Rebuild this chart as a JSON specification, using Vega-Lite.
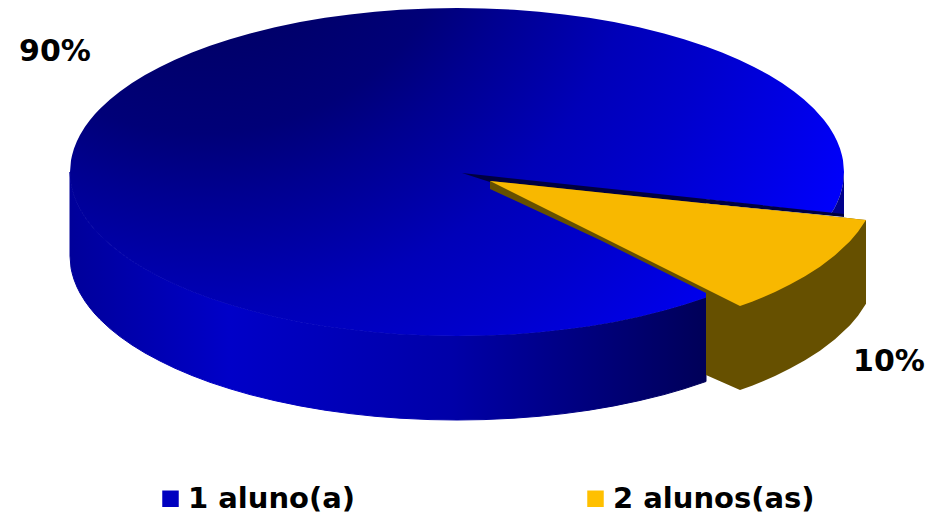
{
"$schema":"https://vega.github.io/schema/vega-lite/v6.json",
"width":936,"height":515,"padding":0,"autosize":"none",
"background":"white",
"view":{"stroke":null},
"datasets":{
"blueSide":[{"x":70,"y":172,"y2":256},{"x":71,"y":183.8,"y2":267.8},{"x":72,"y":188.6,"y2":272.6},{"x":74,"y":195.5,"y2":279.5},{"x":77,"y":203,"y2":287},{"x":80,"y":209,"y2":293},{"x":85,"y":217.2,"y2":301.2},{"x":90,"y":224,"y2":308},{"x":95,"y":230,"y2":314},{"x":100,"y":235.3,"y2":319.3},{"x":110,"y":244.6,"y2":328.6},{"x":120,"y":252.6,"y2":336.6},{"x":132,"y":261,"y2":345},{"x":145,"y":269,"y2":353},{"x":160,"y":277,"y2":361},{"x":175,"y":284.3,"y2":368.3},{"x":192,"y":291.5,"y2":375.5},{"x":210,"y":298.3,"y2":382.3},{"x":230,"y":304.8,"y2":388.8},{"x":250,"y":310.6,"y2":394.6},{"x":275,"y":316.7,"y2":400.7},{"x":300,"y":321.9,"y2":405.9},{"x":325,"y":326.2,"y2":410.2},{"x":350,"y":329.6,"y2":413.6},{"x":375,"y":332.3,"y2":416.3},{"x":400,"y":334.2,"y2":418.2},{"x":430,"y":335.6,"y2":419.6},{"x":457,"y":336,"y2":420},{"x":484,"y":335.6,"y2":419.6},{"x":514,"y":334.2,"y2":418.2},{"x":539,"y":332.3,"y2":416.3},{"x":564,"y":329.6,"y2":413.6},{"x":589,"y":326.2,"y2":410.2},{"x":614,"y":321.9,"y2":405.9},{"x":639,"y":316.7,"y2":400.7},{"x":664,"y":310.6,"y2":394.6},{"x":684,"y":304.8,"y2":388.8},{"x":706,"y":297.5,"y2":381.5}],
"blueTop":[{"x":70,"y":172,"y2":172},{"x":71,"y":160.2,"y2":183.8},{"x":72,"y":155.4,"y2":188.6},{"x":74,"y":148.5,"y2":195.5},{"x":77,"y":141,"y2":203},{"x":80,"y":135,"y2":209},{"x":85,"y":126.8,"y2":217.2},{"x":90,"y":120,"y2":224},{"x":95,"y":114,"y2":230},{"x":100,"y":108.7,"y2":235.3},{"x":110,"y":99.4,"y2":244.6},{"x":120,"y":91.4,"y2":252.6},{"x":132,"y":83,"y2":261},{"x":145,"y":75,"y2":269},{"x":160,"y":67,"y2":277},{"x":175,"y":59.7,"y2":284.3},{"x":192,"y":52.5,"y2":291.5},{"x":210,"y":45.7,"y2":298.3},{"x":230,"y":39.2,"y2":304.8},{"x":250,"y":33.4,"y2":310.6},{"x":275,"y":27.3,"y2":316.7},{"x":300,"y":22.1,"y2":321.9},{"x":325,"y":17.8,"y2":326.2},{"x":350,"y":14.4,"y2":329.6},{"x":375,"y":11.7,"y2":332.3},{"x":400,"y":9.8,"y2":334.2},{"x":430,"y":8.4,"y2":335.6},{"x":457,"y":8,"y2":336},{"x":484,"y":8.4,"y2":335.6},{"x":514,"y":9.8,"y2":334.2},{"x":539,"y":11.7,"y2":332.3},{"x":564,"y":14.4,"y2":329.6},{"x":589,"y":17.8,"y2":326.2},{"x":614,"y":22.1,"y2":321.9},{"x":639,"y":27.3,"y2":316.7},{"x":664,"y":33.4,"y2":310.6},{"x":684,"y":39.2,"y2":304.8},{"x":706,"y":46.5,"y2":297.5},{"x":706.01,"y":46.5,"y2":199.5},{"x":722,"y":52.5,"y2":201.3},{"x":739,"y":59.7,"y2":203.2},{"x":754,"y":67,"y2":204.9},{"x":769,"y":75,"y2":206.6},{"x":782,"y":83,"y2":208},{"x":794,"y":91.4,"y2":209.4},{"x":804,"y":99.4,"y2":210.5},{"x":814,"y":108.7,"y2":211.6},{"x":824,"y":120,"y2":212.8},{"x":829,"y":126.8,"y2":213.3},{"x":831,"y":130,"y2":213.5},{"x":834,"y":135,"y2":209},{"x":837,"y":141,"y2":203},{"x":840,"y":148.5,"y2":195.5},{"x":842,"y":155.4,"y2":188.6},{"x":843,"y":160.2,"y2":183.8},{"x":844,"y":172,"y2":172}],
"blueEdge":[{"x":831,"y":213.5,"y2":213.5},{"x":834,"y":209,"y2":214},{"x":837,"y":203,"y2":214.3},{"x":840,"y":195.5,"y2":214.6},{"x":842,"y":188.6,"y2":214.8},{"x":843,"y":183.8,"y2":214.9},{"x":844,"y":172,"y2":215}],
"shadow":[{"x":462,"y":173,"y2":173},{"x":490,"y":176,"y2":182},{"x":640,"y":192,"y2":197},{"x":844,"y":214,"y2":217}],
"brown":[{"x":490,"y":181,"y2":189},{"x":600,"y":192.4,"y2":240},{"x":706,"y":203.4,"y2":293},{"x":706.01,"y":203.4,"y2":375},{"x":740,"y":206.9,"y2":390},{"x":752,"y":208.2,"y2":385.7},{"x":763,"y":209.3,"y2":381.2},{"x":775,"y":210.5,"y2":375.9},{"x":790,"y":212,"y2":368.6},{"x":805,"y":213.6,"y2":360.3},{"x":820,"y":215.1,"y2":350.7},{"x":835,"y":216.7,"y2":339.3},{"x":850,"y":218.3,"y2":325.2},{"x":858,"y":219.2,"y2":315.8},{"x":866,"y":220,"y2":303.8}],
"yellow":[{"x":490,"y":181,"y2":181},{"x":600,"y":192.4,"y2":236},{"x":706,"y":203.4,"y2":289},{"x":740,"y":206.9,"y2":306},{"x":752,"y":208.2,"y2":301.7},{"x":763,"y":209.3,"y2":297.2},{"x":775,"y":210.5,"y2":291.9},{"x":790,"y":212,"y2":284.6},{"x":805,"y":213.6,"y2":276.3},{"x":820,"y":215.1,"y2":266.7},{"x":835,"y":216.7,"y2":255.3},{"x":850,"y":218.3,"y2":241.2},{"x":858,"y":219.2,"y2":231.8},{"x":866,"y":220,"y2":220}],
"shares":[{"category":"1 aluno(a)","share":90,"label":"90%","x":55,"y":52},{"category":"2 alunos(as)","share":10,"label":"10%","x":889,"y":362}]
},
"encoding":{
"x":{"field":"x","type":"quantitative","scale":{"domain":[0,936],"nice":false,"zero":false},"axis":null},
"y":{"field":"y","type":"quantitative","scale":{"domain":[515,0],"nice":false,"zero":false},"axis":null}
},
"layer":[
{"data":{"name":"blueSide"},"mark":{"type":"area","orient":"vertical","strokeWidth":1,"stroke":{"gradient":"linear","x1":0,"y1":0,"x2":1,"y2":0,"stops":[{"offset":0,"color":"#00009a"},{"offset":0.25,"color":"#0000c8"},{"offset":0.6,"color":"#0000a8"},{"offset":1,"color":"#000058"}]},"color":{"gradient":"linear","x1":0,"y1":0,"x2":1,"y2":0,"stops":[{"offset":0,"color":"#00009a"},{"offset":0.25,"color":"#0000c8"},{"offset":0.6,"color":"#0000a8"},{"offset":1,"color":"#000058"}]}},"encoding":{"y2":{"field":"y2"}}},
{"data":{"name":"blueTop"},"mark":{"type":"area","orient":"vertical","color":{"gradient":"radial","x1":0.17,"y1":0.1,"r1":0,"x2":0.17,"y2":0.1,"r2":1,"stops":[{"offset":0,"color":"#000050"},{"offset":0.35,"color":"#000078"},{"offset":0.43,"color":"#000090"},{"offset":0.58,"color":"#0000b8"},{"offset":0.7,"color":"#0000cc"},{"offset":0.82,"color":"#0000e4"},{"offset":0.95,"color":"#0000ff"},{"offset":1,"color":"#0000ff"}]}},"encoding":{"y2":{"field":"y2"}}},
{"data":{"name":"blueEdge"},"mark":{"type":"area","orient":"vertical","color":"#00008c"},"encoding":{"y2":{"field":"y2"}}},
{"data":{"name":"shadow"},"mark":{"type":"area","orient":"vertical","color":"#000040"},"encoding":{"y2":{"field":"y2"}}},
{"data":{"name":"brown"},"mark":{"type":"area","orient":"vertical","color":"#665000"},"encoding":{"y2":{"field":"y2"}}},
{"data":{"name":"yellow"},"mark":{"type":"area","orient":"vertical","color":"#f8b800"},"encoding":{"y2":{"field":"y2"}}},
{"data":{"name":"shares"},"mark":{"type":"text","font":"DejaVu Sans","fontWeight":"bold","fontSize":30,"color":"black","align":"center","baseline":"middle"},"encoding":{"text":{"field":"label"}}},
{"data":{"name":"shares"},"mark":{"type":"point","filled":true,"size":0,"opacity":1},"encoding":{"color":{"field":"category","type":"nominal","scale":{"domain":["1 aluno(a)","2 alunos(as)"],"range":["#0000c0","#ffc000"]},"legend":{"title":null,"orient":"none","legendX":156,"legendY":484,"direction":"horizontal","columns":2,"columnPadding":225,"symbolType":"square","symbolSize":272,"symbolOpacity":1,"symbolStrokeWidth":0,"labelFont":"DejaVu Sans","labelFontWeight":"bold","labelFontSize":29,"labelColor":"black","labelOffset":3,"labelLimit":400,"padding":0}}}}
]
}
